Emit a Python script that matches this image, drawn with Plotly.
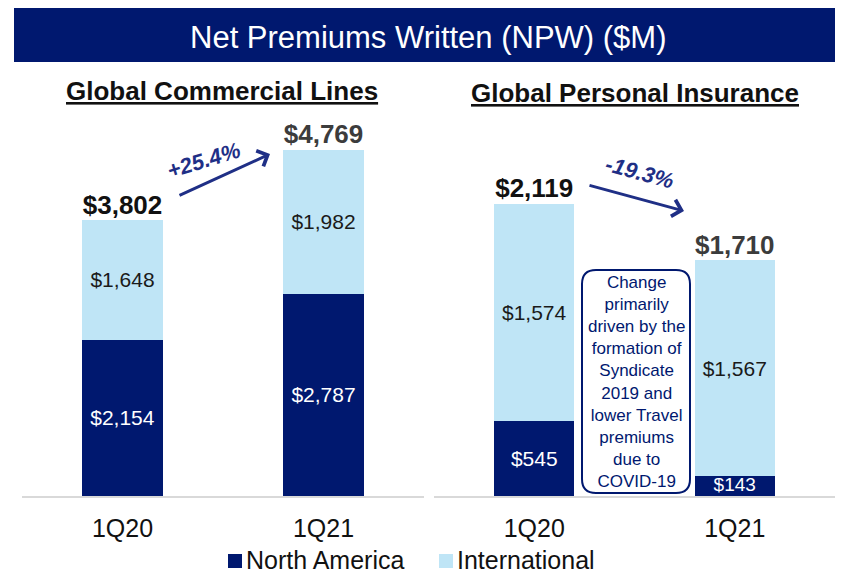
import plotly.graph_objects as go

# the page body adds an 8px margin on every side, so the figure is 16px
# smaller than the window and reference pixels are shifted by 8
W, H = 827, 566
OFF = 8

def fx(p):
    return (p - OFF) / W

def fy(p):
    return 1 - (p - OFF) / H

NAVY = '#00186F'
LIGHT = '#BFE5F6'
FONT = 'Arial, Liberation Sans, sans-serif'

quarters = ['1Q20', '1Q21']
series_names = ['North America', 'International']

# Global Commercial Lines
gcl_north_america = [2154, 2787]
gcl_international = [1648, 1982]
gcl_totals = [3802, 4769]

# Global Personal Insurance
gpi_north_america = [545, 143]
gpi_international = [1574, 1567]
gpi_totals = [2119, 1710]

def money(v):
    return '${:,}'.format(v)

fig = go.Figure()

for xa, ya, na, intl, tot in [
    ('x', 'y', gcl_north_america, gcl_international, gcl_totals),
    ('x2', 'y2', gpi_north_america, gpi_international, gpi_totals),
]:
    # small segments get their label from a text trace so it is not shrunk
    na_pos = ['inside' if v > 300 else 'none' for v in na]
    fig.add_trace(go.Bar(x=quarters, y=na, xaxis=xa, yaxis=ya, name=series_names[0],
                         marker=dict(color=NAVY, line_width=0), width=0.4,
                         text=[money(v) for v in na], textposition=na_pos,
                         insidetextanchor='middle', textangle=0,
                         insidetextfont=dict(color='white', size=21, family=FONT)))
    fig.add_trace(go.Bar(x=quarters, y=intl, xaxis=xa, yaxis=ya, name=series_names[1],
                         marker=dict(color=LIGHT, line_width=0), width=0.4,
                         text=[money(v) for v in intl], textposition='inside',
                         insidetextanchor='middle', textangle=0,
                         insidetextfont=dict(color='#1a1a1a', size=21, family=FONT)))
    small = [i for i, v in enumerate(na) if v <= 300]
    if small:
        fig.add_trace(go.Scatter(x=[quarters[i] for i in small], y=[na[i] / 2 for i in small],
                                 xaxis=xa, yaxis=ya, mode='text',
                                 text=[money(na[i]) for i in small], textposition='middle center',
                                 textfont=dict(size=19, family=FONT, color='white'),
                                 hoverinfo='skip'))
    fig.add_trace(go.Scatter(x=quarters, y=tot, xaxis=xa, yaxis=ya, mode='text',
                             text=['<b>' + money(v) + '</b>' for v in tot],
                             textposition='top center',
                             textfont=dict(size=26, family=FONT, color=['#111111', '#3c3c3c']),
                             hoverinfo='skip'))

axis_common = dict(showline=True, linecolor='#D9D9D9', linewidth=2, ticks='',
                   showgrid=False, zeroline=False, ticklabelstandoff=9,
                   tickfont=dict(size=25, family=FONT, color='#111111'))

fig.update_layout(
    width=W, height=H,
    margin=dict(l=0, r=0, t=0, b=0),
    paper_bgcolor='white', plot_bgcolor='white',
    barmode='stack',
    showlegend=False,
    xaxis=dict(domain=[fx(22), fx(424)], range=[-0.5, 1.5], anchor='y', **axis_common),
    yaxis=dict(domain=[fy(496), 1], range=[0, 6726], visible=False),
    xaxis2=dict(domain=[fx(434), 1], range=[-0.5, 1.5], anchor='y2', **axis_common),
    yaxis2=dict(domain=[fy(496), 1], range=[0, 3541], visible=False),
    font=dict(family=FONT),
)

# legend drawn by hand so it does not push the bottom margin
for name, color, sx in [(series_names[0], NAVY, 228), (series_names[1], LIGHT, 439)]:
    fig.add_shape(type='rect', xref='paper', yref='paper', x0=fx(sx), x1=fx(sx + 14),
                  y0=fy(568), y1=fy(554), fillcolor=color, line_width=0)
    fig.add_annotation(text=name, xref='paper', yref='paper', x=fx(sx + 16), y=fy(560),
                       xanchor='left', yanchor='middle', showarrow=False,
                       font=dict(size=25, color='#111111', family=FONT))

# title banner
fig.add_shape(type='rect', xref='paper', yref='paper', x0=fx(14), x1=1, y0=fy(62), y1=fy(8),
              fillcolor=NAVY, line_width=0, layer='below')
fig.add_annotation(text='Net Premiums Written (NPW) ($M)', xref='paper', yref='paper',
                   x=fx(429), y=fy(37), xanchor='center', yanchor='middle', showarrow=False,
                   font=dict(size=31, color='white', family=FONT))

# panel subtitles
fig.add_annotation(text='<b><u>Global Commercial Lines</u></b>', xref='paper', yref='paper',
                   x=fx(222), y=fy(91), xanchor='center', yanchor='middle', showarrow=False,
                   font=dict(size=26, color='#111111', family=FONT))
fig.add_annotation(text='<b><u>Global Personal Insurance</u></b>', xref='paper', yref='paper',
                   x=fx(635), y=fy(93), xanchor='center', yanchor='middle', showarrow=False,
                   font=dict(size=26, color='#111111', family=FONT))

# growth arrows
fig.add_annotation(text='', xref='paper', yref='paper', x=fx(270), y=fy(154),
                   ax=-92, ay=42, showarrow=True, arrowhead=4, arrowsize=1.1,
                   arrowwidth=3, arrowcolor='#1F2F86')
fig.add_annotation(text='<b><i>+25.4%</i></b>', xref='paper', yref='paper',
                   x=fx(203), y=fy(160), xanchor='center', yanchor='middle',
                   showarrow=False, textangle=-17,
                   font=dict(size=22, color='#1F2F86', family=FONT))
fig.add_annotation(text='', xref='paper', yref='paper', x=fx(684), y=fy(211),
                   ax=-96, ay=-26, showarrow=True, arrowhead=4, arrowsize=1.1,
                   arrowwidth=3, arrowcolor='#1F2F86')
fig.add_annotation(text='<b><i>-19.3%</i></b>', xref='paper', yref='paper',
                   x=fx(640), y=fy(172), xanchor='center', yanchor='middle',
                   showarrow=False, textangle=15,
                   font=dict(size=22, color='#1F2F86', family=FONT))

# callout box with rounded corners
x0, x1, y0, y1, r = 582, 690, 270, 493, 14
path = ('M {a},{b} L {c},{b} Q {d},{b} {d},{e} L {d},{f} Q {d},{g} {c},{g} '
        'L {a},{g} Q {h},{g} {h},{f} L {h},{e} Q {h},{b} {a},{b} Z').format(
    a=fx(x0 + r), b=fy(y0), c=fx(x1 - r), d=fx(x1), e=fy(y0 + r),
    f=fy(y1 - r), g=fy(y1), h=fx(x0))
fig.add_shape(type='path', xref='paper', yref='paper', path=path,
              fillcolor='white', line=dict(color=NAVY, width=2))
fig.add_annotation(text='Change<br>primarily<br>driven by the<br>formation of<br>Syndicate<br>'
                        '2019 and<br>lower Travel<br>premiums<br>due to<br>COVID-19',
                   xref='paper', yref='paper', x=fx(636), y=fy(382),
                   xanchor='center', yanchor='middle', showarrow=False,
                   align='center', font=dict(size=17, color=NAVY, family=FONT))

fig.write_html('out.html')
